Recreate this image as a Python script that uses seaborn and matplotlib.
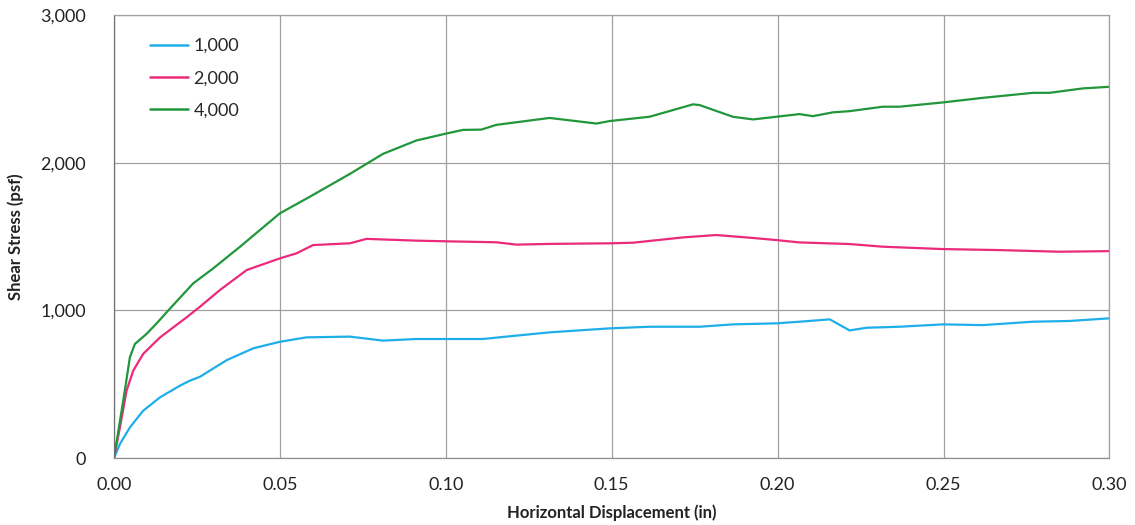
import numpy as np
import pandas as pd
import matplotlib
matplotlib.use("Agg")
import matplotlib.pyplot as plt
import seaborn as sns

# Direct shear test: shear stress vs horizontal displacement for three normal loads (psf)
normal_loads = ["1,000", "2,000", "4,000"]
line_colors = ["#1eaeea", "#ec2a7c", "#21963a"]

disp_1000 = [0.0, 0.0018, 0.0048, 0.0088, 0.0139, 0.0199, 0.0229, 0.0259, 0.034, 0.042,
             0.05, 0.058, 0.0711, 0.0811, 0.0911, 0.1112, 0.1213, 0.1313, 0.1494, 0.1614,
             0.1765, 0.1865, 0.1996, 0.2066, 0.2157, 0.2217, 0.2267, 0.2367, 0.2498,
             0.2618, 0.2769, 0.2879, 0.30]
stress_1000 = [0, 95, 207, 320, 411, 490, 524, 550, 663, 743,
               787, 817, 822, 795, 806, 806, 829, 851, 878, 889,
               889, 905, 912, 923, 939, 864, 882, 889, 905,
               900, 923, 928, 946]

disp_2000 = [0.0, 0.0018, 0.0038, 0.0058, 0.0088, 0.0139, 0.0219, 0.0259, 0.0319, 0.04,
             0.05, 0.055, 0.06, 0.0711, 0.0761, 0.0911, 0.1012, 0.1152, 0.1213, 0.1313,
             0.1494, 0.1564, 0.1715, 0.1815, 0.1916, 0.1996, 0.2066, 0.2217, 0.2317,
             0.2498, 0.2669, 0.2849, 0.30]
stress_2000 = [0, 207, 456, 591, 705, 817, 953, 1024, 1137, 1273,
               1352, 1386, 1442, 1454, 1484, 1472, 1467, 1461, 1445, 1450,
               1454, 1458, 1494, 1510, 1492, 1476, 1460, 1449, 1431,
               1415, 1408, 1397, 1401]

disp_4000 = [0.0, 0.0028, 0.0048, 0.0063, 0.0098, 0.013, 0.0164, 0.0239, 0.0299, 0.038,
             0.05, 0.059, 0.0711, 0.0811, 0.0911, 0.0997, 0.1052, 0.1107, 0.1152, 0.1313,
             0.1454, 0.1494, 0.1614, 0.1745, 0.1765, 0.1865, 0.1926, 0.1996, 0.2066,
             0.2106, 0.2167, 0.2217, 0.2317, 0.2367, 0.2498, 0.2618, 0.2769, 0.2819,
             0.292, 0.30]
stress_4000 = [0, 388, 682, 772, 840, 915, 1000, 1183, 1284, 1431,
               1657, 1769, 1924, 2060, 2150, 2195, 2222, 2224, 2256, 2303,
               2265, 2282, 2311, 2395, 2390, 2311, 2293, 2311, 2329,
               2315, 2341, 2349, 2379, 2379, 2408, 2439, 2473, 2473,
               2503, 2514]

x_ticks = [0.00, 0.05, 0.10, 0.15, 0.20, 0.25, 0.30]
y_ticks = [0, 1000, 2000, 3000]

frames = []
for load, xs, ys in zip(normal_loads,
                        [disp_1000, disp_2000, disp_4000],
                        [stress_1000, stress_2000, stress_4000]):
    frames.append(pd.DataFrame({"disp": xs, "stress": ys, "load": load}))
data = pd.concat(frames, ignore_index=True)

sns.set_theme(style="white")
plt.rcParams["font.family"] = ["Lato", "DejaVu Sans"]

fig = plt.figure(figsize=(11.35, 5.25), dpi=100)
ax = fig.add_axes([0.1004, 0.1276, 0.8771, 0.8438])

sns.lineplot(data=data, x="disp", y="stress", hue="load", hue_order=normal_loads,
             palette=line_colors, estimator=None, sort=False, linewidth=1.6, ax=ax)
for line in ax.get_lines():
    line.set_solid_joinstyle("round")
    line.set_solid_capstyle("round")

ax.set_xlim(0, 0.30)
ax.set_ylim(0, 3000)
ax.set_xticks(x_ticks)
ax.set_xticklabels([f"{t:.2f}" for t in x_ticks])
ax.set_yticks(y_ticks)
ax.set_yticklabels([f"{t:,}" for t in y_ticks])
ax.tick_params(axis="both", length=0, labelsize=13, colors="#222222")
ax.tick_params(axis="x", pad=14)
ax.tick_params(axis="y", pad=20)

ax.grid(True, color="#a0a0a0", linewidth=0.9)
ax.set_axisbelow(True)
for side in ["left", "bottom", "top", "right"]:
    ax.spines[side].set_color("#a0a0a0")
    ax.spines[side].set_linewidth(0.9)
ax.spines["left"].set_color("#707070")
ax.spines["bottom"].set_color("#909090")

ax.set_xlabel("Horizontal Displacement (in)", fontsize=12, fontweight="bold",
              color="#222222", labelpad=8)
ax.set_ylabel("Shear Stress (psf)", fontsize=12, fontweight="bold",
              color="#222222", labelpad=12)

leg = ax.legend(loc="upper left", bbox_to_anchor=(0.02, 0.985), frameon=False,
                fontsize=13, handlelength=2.1, handletextpad=0.3, labelspacing=0.9,
                title=None)
for h in leg.get_lines():
    h.set_linewidth(1.8)

fig.savefig("out.png", dpi=100, facecolor="white")
